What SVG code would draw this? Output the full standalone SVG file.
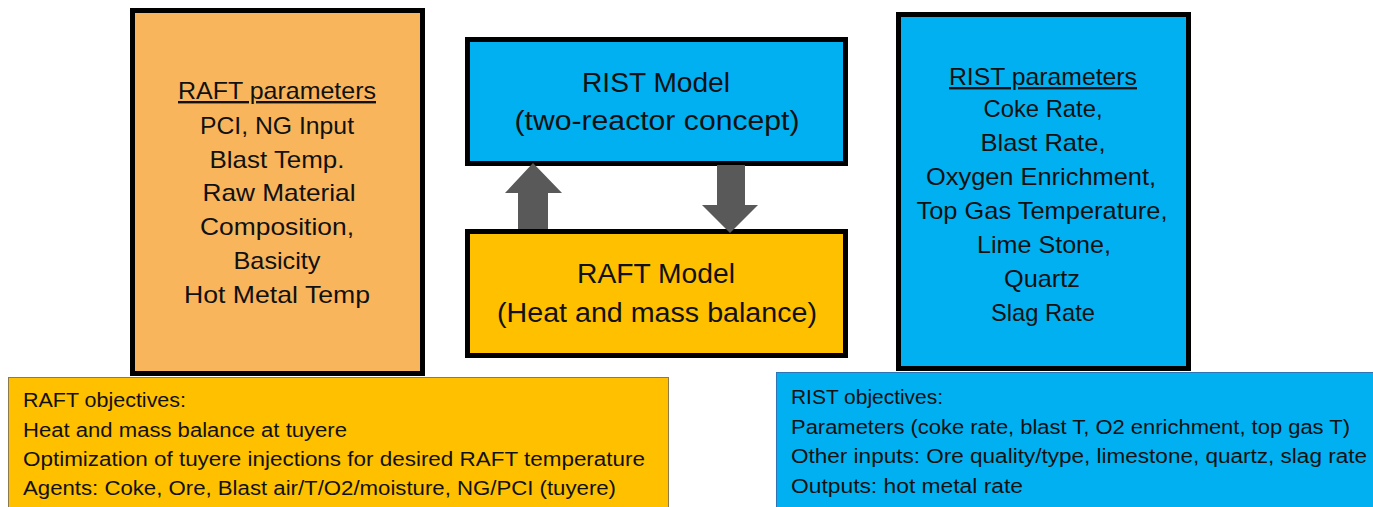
<svg xmlns="http://www.w3.org/2000/svg" width="1373" height="507" viewBox="0 0 1373 507">
<style>
text{font-family:"Liberation Sans",Arial,sans-serif;fill:#111}
.big{font-size:24px;text-anchor:middle}
.model{font-size:27px;text-anchor:middle}
.obj{font-size:20px}
.box{stroke:#000;stroke-width:5}
.arrow{fill:#595959}
</style>
<rect width="1373" height="507" fill="#fff"/>
<g id="raft-params">
<rect class="box" x="132.5" y="10.5" width="290" height="363" fill="#F9B55C"/>
<text class="big" x="277" y="99" textLength="198" lengthAdjust="spacingAndGlyphs" text-decoration="underline">RAFT parameters</text>
<text class="big" x="277" y="134" textLength="154" lengthAdjust="spacingAndGlyphs">PCI, NG Input</text>
<text class="big" x="277" y="168" textLength="135" lengthAdjust="spacingAndGlyphs">Blast Temp.</text>
<text class="big" x="279" y="201" textLength="153" lengthAdjust="spacingAndGlyphs">Raw Material</text>
<text class="big" x="277" y="235" textLength="154" lengthAdjust="spacingAndGlyphs">Composition,</text>
<text class="big" x="277" y="269" textLength="87" lengthAdjust="spacingAndGlyphs">Basicity</text>
<text class="big" x="277" y="303" textLength="186" lengthAdjust="spacingAndGlyphs">Hot Metal Temp</text>
</g>
<g id="rist-model">
<rect class="box" x="467.5" y="39.5" width="378" height="124" fill="#00B0F0"/>
<text class="model" x="656" y="92" textLength="148" lengthAdjust="spacingAndGlyphs">RIST Model</text>
<text class="model" x="657" y="130" textLength="285" lengthAdjust="spacingAndGlyphs">(two-reactor concept)</text>
</g>
<g id="raft-model">
<rect class="box" x="467.5" y="231.5" width="378" height="124" fill="#FFC000"/>
<text class="model" x="656" y="283" textLength="158" lengthAdjust="spacingAndGlyphs">RAFT Model</text>
<text class="model" x="657" y="322" textLength="320" lengthAdjust="spacingAndGlyphs">(Heat and mass balance)</text>
</g>
<g id="rist-params">
<rect class="box" x="898.5" y="14.5" width="290" height="354" fill="#00B0F0"/>
<text class="big" x="1043" y="85" textLength="188" lengthAdjust="spacingAndGlyphs" text-decoration="underline">RIST parameters</text>
<text class="big" x="1043" y="117" textLength="119" lengthAdjust="spacingAndGlyphs">Coke Rate,</text>
<text class="big" x="1043" y="151" textLength="125" lengthAdjust="spacingAndGlyphs">Blast Rate,</text>
<text class="big" x="1041" y="185" textLength="230" lengthAdjust="spacingAndGlyphs">Oxygen Enrichment,</text>
<text class="big" x="1042" y="219" textLength="251" lengthAdjust="spacingAndGlyphs">Top Gas Temperature,</text>
<text class="big" x="1044" y="253" textLength="134" lengthAdjust="spacingAndGlyphs">Lime Stone,</text>
<text class="big" x="1042" y="287" textLength="76" lengthAdjust="spacingAndGlyphs">Quartz</text>
<text class="big" x="1043" y="321" textLength="104" lengthAdjust="spacingAndGlyphs">Slag Rate</text>
</g>
<g id="connectors">
<polygon class="arrow" points="518,229 518,193 505,193 533,163 562,193 548,193 548,229"/>
<polygon class="arrow" points="717,165 745,165 745,205 758,205 730,233 702,205 717,205"/>
</g>
<g id="raft-objectives">
<rect x="8.5" y="377.5" width="660" height="132" fill="#FFC000" stroke="#8C7A4A" stroke-width="1"/>
<text class="obj" x="23" y="407" textLength="163" lengthAdjust="spacingAndGlyphs">RAFT objectives:</text>
<text class="obj" x="23" y="437" textLength="324" lengthAdjust="spacingAndGlyphs">Heat and mass balance at tuyere</text>
<text class="obj" x="23" y="466" textLength="622" lengthAdjust="spacingAndGlyphs">Optimization of tuyere injections for desired RAFT temperature</text>
<text class="obj" x="23" y="495" textLength="593" lengthAdjust="spacingAndGlyphs">Agents: Coke, Ore, Blast air/T/O2/moisture, NG/PCI (tuyere)</text>
</g>
<g id="rist-objectives">
<rect x="776.5" y="372.5" width="600" height="137" fill="#00B0F0" stroke="#2E75B6" stroke-width="1"/>
<text class="obj" x="791" y="404" textLength="152" lengthAdjust="spacingAndGlyphs">RIST objectives:</text>
<text class="obj" x="791" y="434" textLength="559" lengthAdjust="spacingAndGlyphs">Parameters (coke rate, blast T, O2 enrichment, top gas T)</text>
<text class="obj" x="791" y="463" textLength="576" lengthAdjust="spacingAndGlyphs">Other inputs: Ore quality/type, limestone, quartz, slag rate</text>
<text class="obj" x="791" y="493" textLength="232" lengthAdjust="spacingAndGlyphs">Outputs: hot metal rate</text>
</g>
</svg>
